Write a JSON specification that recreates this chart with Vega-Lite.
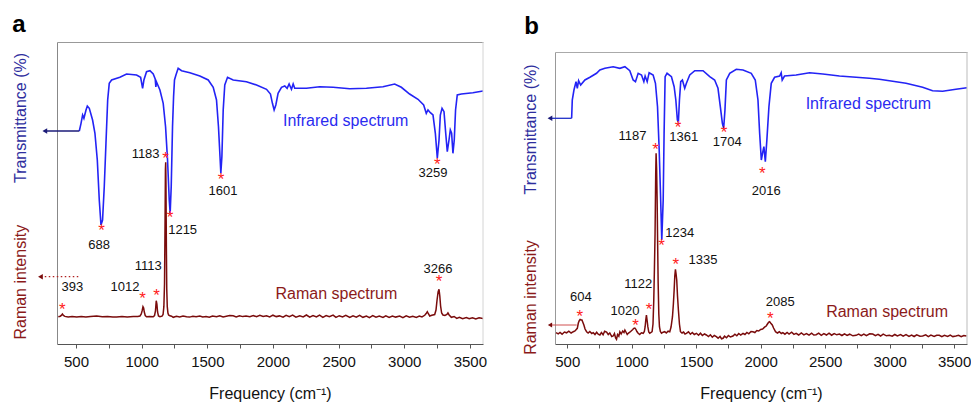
{
  "$schema": "https://vega.github.io/schema/vega-lite/v6.json",
  "width": 914,
  "height": 302,
  "autosize": {"type": "none"},
  "padding": {"left": 57, "top": 42, "right": 0, "bottom": 58},
  "background": "white",
  "config": {"font": "Liberation Sans", "view": {"stroke": null}},
  "datasets": {
    "one": [{"k": 1}],
    "irA": [
      {"f":525,"y":213},{"f":538,"y":220.7},{"f":550,"y":229},{"f":560,"y":225.7},{"f":576,"y":234},{"f":586,"y":238},{"f":601,"y":235.7},{"f":626,"y":224},{"f":644,"y":210.7},{"f":662,"y":184},{"f":677,"y":144},{"f":690,"y":119},{"f":702,"y":124},{"f":715,"y":157.3},{"f":728,"y":200.7},{"f":741,"y":244},{"f":753,"y":260.7},{"f":771,"y":264},{"f":834,"y":266.7},{"f":885,"y":270},{"f":961,"y":269},{"f":992,"y":266.7},{"f":1007,"y":255.7},{"f":1017,"y":264},{"f":1037,"y":272.3},{"f":1063,"y":273.3},{"f":1088,"y":270},{"f":1103,"y":265},{"f":1108,"y":257},{"f":1113,"y":262},{"f":1139,"y":254},{"f":1164,"y":240.7},{"f":1182,"y":217.3},{"f":1197,"y":184},{"f":1210,"y":144},{"f":1217,"y":130.7},{"f":1225,"y":157.3},{"f":1235,"y":217.3},{"f":1243,"y":247.3},{"f":1250,"y":264},{"f":1261,"y":269},{"f":1278,"y":275.7},{"f":1304,"y":273.3},{"f":1367,"y":271.3},{"f":1443,"y":268},{"f":1507,"y":264},{"f":1545,"y":256.7},{"f":1570,"y":244},{"f":1585,"y":217.3},{"f":1598,"y":184},{"f":1603,"y":170.7},{"f":1611,"y":187.3},{"f":1621,"y":234},{"f":1633,"y":259},{"f":1654,"y":266.7},{"f":1697,"y":264},{"f":1798,"y":262.3},{"f":1875,"y":259},{"f":1951,"y":254.7},{"f":1981,"y":250},{"f":1996,"y":240.7},{"f":2009,"y":234},{"f":2022,"y":239},{"f":2039,"y":250.7},{"f":2065,"y":256.7},{"f":2090,"y":258},{"f":2108,"y":255.7},{"f":2123,"y":260},{"f":2141,"y":254.7},{"f":2154,"y":260},{"f":2166,"y":255.7},{"f":2255,"y":255.7},{"f":2356,"y":257.3},{"f":2458,"y":256.7},{"f":2585,"y":255.3},{"f":2712,"y":255.7},{"f":2838,"y":257.3},{"f":2927,"y":260},{"f":2978,"y":256.7},{"f":3041,"y":250},{"f":3105,"y":244.7},{"f":3148,"y":239},{"f":3168,"y":230.7},{"f":3181,"y":234},{"f":3199,"y":231.3},{"f":3219,"y":229},{"f":3237,"y":210.7},{"f":3252,"y":185.7},{"f":3265,"y":204},{"f":3275,"y":229},{"f":3288,"y":235.7},{"f":3303,"y":232.3},{"f":3316,"y":210.7},{"f":3328,"y":192.3},{"f":3341,"y":204},{"f":3351,"y":214},{"f":3361,"y":210.7},{"f":3371,"y":190.7},{"f":3381,"y":204},{"f":3391,"y":234},{"f":3404,"y":249},{"f":3435,"y":250},{"f":3523,"y":251.3},{"f":3600,"y":253}
    ],
    "ramanA": [
      {"f":365,"y":27.3},{"f":380,"y":27.8},{"f":388,"y":28.6},{"f":396,"y":30},{"f":404,"y":28.5},{"f":415,"y":27.6},{"f":440,"y":27.1},{"f":470,"y":27.6},{"f":505,"y":26.9},{"f":540,"y":27.4},{"f":575,"y":27},{"f":610,"y":27.6},{"f":657,"y":28},{"f":700,"y":27.2},{"f":740,"y":27.5},{"f":780,"y":26.9},{"f":809,"y":27.1},{"f":850,"y":27.6},{"f":890,"y":27},{"f":936,"y":27.4},{"f":970,"y":27.6},{"f":987,"y":28},{"f":997,"y":30},{"f":1004,"y":33.5},{"f":1010,"y":37.3},{"f":1015,"y":36},{"f":1020,"y":32},{"f":1027,"y":28.5},{"f":1037,"y":27.3},{"f":1060,"y":27.6},{"f":1088,"y":27.3},{"f":1098,"y":28.5},{"f":1105,"y":33},{"f":1111,"y":43.3},{"f":1116,"y":40},{"f":1121,"y":32},{"f":1128,"y":28},{"f":1139,"y":27.3},{"f":1155,"y":27.8},{"f":1163,"y":29.5},{"f":1169,"y":37.3},{"f":1174,"y":60},{"f":1178,"y":120},{"f":1181,"y":175},{"f":1183,"y":181.7},{"f":1185,"y":160},{"f":1188,"y":100},{"f":1191,"y":55},{"f":1195,"y":37.3},{"f":1200,"y":31},{"f":1205,"y":29},{"f":1215,"y":28.2},{"f":1228,"y":27.8},{"f":1240,"y":26.7},{"f":1265,"y":27.8},{"f":1290,"y":27},{"f":1315,"y":27.9},{"f":1342,"y":27.3},{"f":1365,"y":26.9},{"f":1390,"y":27.8},{"f":1415,"y":27.2},{"f":1443,"y":28},{"f":1465,"y":27.1},{"f":1490,"y":27.6},{"f":1515,"y":26.8},{"f":1540,"y":27.9},{"f":1570,"y":27.3},{"f":1595,"y":28.2},{"f":1620,"y":27},{"f":1645,"y":27.7},{"f":1670,"y":28.4},{"f":1697,"y":28.2},{"f":1720,"y":27.1},{"f":1745,"y":28.3},{"f":1770,"y":27.4},{"f":1795,"y":28},{"f":1824,"y":27.3},{"f":1850,"y":28.5},{"f":1875,"y":27.2},{"f":1900,"y":28.6},{"f":1925,"y":27.5},{"f":1951,"y":28.3},{"f":1975,"y":27},{"f":2000,"y":28.8},{"f":2025,"y":27.4},{"f":2050,"y":28.1},{"f":2077,"y":26.9},{"f":2100,"y":28.7},{"f":2125,"y":27.3},{"f":2150,"y":28.9},{"f":2175,"y":26.8},{"f":2204,"y":28.2},{"f":2230,"y":27.1},{"f":2255,"y":29},{"f":2280,"y":26.9},{"f":2305,"y":28.4},{"f":2331,"y":27},{"f":2355,"y":28.8},{"f":2380,"y":26.7},{"f":2405,"y":28.5},{"f":2430,"y":27.2},{"f":2458,"y":28.9},{"f":2480,"y":26.6},{"f":2505,"y":28.3},{"f":2530,"y":27},{"f":2555,"y":28.7},{"f":2585,"y":26.5},{"f":2610,"y":28.1},{"f":2635,"y":26.9},{"f":2660,"y":28.6},{"f":2685,"y":26.7},{"f":2712,"y":28},{"f":2735,"y":26.4},{"f":2760,"y":28.4},{"f":2785,"y":26.8},{"f":2810,"y":27.9},{"f":2838,"y":26.5},{"f":2860,"y":28.2},{"f":2885,"y":26.6},{"f":2910,"y":28},{"f":2935,"y":26.9},{"f":2965,"y":27.9},{"f":2990,"y":26.3},{"f":3015,"y":28.1},{"f":3040,"y":26.7},{"f":3065,"y":27.8},{"f":3092,"y":26.6},{"f":3115,"y":27.9},{"f":3135,"y":27},{"f":3156,"y":28.7},{"f":3170,"y":31},{"f":3176,"y":32.3},{"f":3185,"y":30},{"f":3194,"y":28},{"f":3210,"y":28.8},{"f":3232,"y":29.5},{"f":3242,"y":34},{"f":3250,"y":44},{"f":3258,"y":52},{"f":3265,"y":54.7},{"f":3271,"y":48},{"f":3277,"y":38},{"f":3285,"y":31},{"f":3295,"y":29},{"f":3310,"y":28.5},{"f":3325,"y":29.5},{"f":3333,"y":31},{"f":3342,"y":29},{"f":3359,"y":26.7},{"f":3380,"y":27.5},{"f":3400,"y":25.6},{"f":3420,"y":26.8},{"f":3445,"y":25.3},{"f":3473,"y":26.5},{"f":3495,"y":25.2},{"f":3520,"y":26.3},{"f":3545,"y":25},{"f":3570,"y":26.2},{"f":3600,"y":25.5}
    ],
    "irB": [
      {"f":534,"y":225.7},{"f":539,"y":244},{"f":552,"y":254},{"f":568,"y":262.3},{"f":578,"y":255.7},{"f":588,"y":263.3},{"f":604,"y":259},{"f":637,"y":264},{"f":676,"y":266.7},{"f":727,"y":270.7},{"f":753,"y":274},{"f":792,"y":275.7},{"f":856,"y":277.3},{"f":908,"y":275.7},{"f":947,"y":277.3},{"f":985,"y":273.3},{"f":1011,"y":264},{"f":1029,"y":262.3},{"f":1050,"y":270.7},{"f":1076,"y":269},{"f":1094,"y":262.3},{"f":1104,"y":268},{"f":1120,"y":262.3},{"f":1135,"y":271.3},{"f":1166,"y":269},{"f":1184,"y":260.7},{"f":1200,"y":237.3},{"f":1213,"y":194},{"f":1223,"y":150.7},{"f":1233,"y":104},{"f":1244,"y":144},{"f":1251,"y":210.7},{"f":1259,"y":267.3},{"f":1274,"y":270.7},{"f":1308,"y":267.3},{"f":1329,"y":257.3},{"f":1342,"y":244},{"f":1354,"y":224},{"f":1362,"y":222.3},{"f":1370,"y":244},{"f":1380,"y":262.3},{"f":1393,"y":264},{"f":1411,"y":255.7},{"f":1424,"y":260.7},{"f":1450,"y":269},{"f":1489,"y":273.3},{"f":1553,"y":273.3},{"f":1605,"y":267.3},{"f":1643,"y":264},{"f":1669,"y":255.7},{"f":1687,"y":237.3},{"f":1703,"y":220.7},{"f":1713,"y":215.7},{"f":1723,"y":234},{"f":1734,"y":264},{"f":1760,"y":270.7},{"f":1811,"y":274.7},{"f":1863,"y":274},{"f":1927,"y":270.7},{"f":1958,"y":264},{"f":1979,"y":244},{"f":1992,"y":210.7},{"f":2005,"y":184},{"f":2017,"y":192.3},{"f":2025,"y":197.3},{"f":2036,"y":182.3},{"f":2048,"y":204},{"f":2064,"y":237.3},{"f":2082,"y":260.7},{"f":2108,"y":266.7},{"f":2147,"y":268},{"f":2159,"y":271.3},{"f":2167,"y":264},{"f":2185,"y":268},{"f":2275,"y":269},{"f":2379,"y":271.3},{"f":2482,"y":270},{"f":2611,"y":268},{"f":2740,"y":266.7},{"f":2843,"y":265.7},{"f":2920,"y":264.7},{"f":2998,"y":263.3},{"f":3127,"y":260.7},{"f":3256,"y":256.7},{"f":3333,"y":253.3},{"f":3411,"y":252.7},{"f":3514,"y":254.7},{"f":3599,"y":256.3}
    ],
    "ramanB": [
      {"f":413,"y":11.3},{"f":430,"y":10.2},{"f":444,"y":11.5},{"f":460,"y":9.8},{"f":478,"y":12},{"f":495,"y":11.2},{"f":512,"y":12.8},{"f":530,"y":11},{"f":547,"y":12.3},{"f":560,"y":13},{"f":570,"y":14.5},{"f":578,"y":15.7},{"f":586,"y":21},{"f":593,"y":23.3},{"f":600,"y":24.5},{"f":608,"y":24},{"f":614,"y":24},{"f":620,"y":22},{"f":629,"y":19},{"f":638,"y":15},{"f":650,"y":12.3},{"f":662,"y":11},{"f":675,"y":12.5},{"f":690,"y":10.5},{"f":702,"y":11.3},{"f":715,"y":9.5},{"f":728,"y":11.8},{"f":740,"y":9.8},{"f":753,"y":9},{"f":765,"y":11.5},{"f":778,"y":9.2},{"f":790,"y":12.8},{"f":805,"y":12},{"f":818,"y":9.5},{"f":830,"y":11},{"f":845,"y":7.5},{"f":856,"y":8},{"f":866,"y":10.5},{"f":875,"y":6},{"f":882,"y":4.7},{"f":890,"y":9.5},{"f":900,"y":7.8},{"f":908,"y":12.3},{"f":918,"y":10},{"f":930,"y":13},{"f":940,"y":11.5},{"f":947,"y":14},{"f":955,"y":12},{"f":965,"y":9.5},{"f":973,"y":10.7},{"f":985,"y":11.8},{"f":998,"y":13.3},{"f":1008,"y":14.5},{"f":1016,"y":15.7},{"f":1024,"y":16},{"f":1032,"y":14.7},{"f":1040,"y":12.5},{"f":1050,"y":10.7},{"f":1062,"y":9.5},{"f":1075,"y":11.2},{"f":1089,"y":10.7},{"f":1098,"y":12.5},{"f":1104,"y":17.3},{"f":1109,"y":24},{"f":1114,"y":29},{"f":1119,"y":24},{"f":1125,"y":17.3},{"f":1132,"y":12},{"f":1140,"y":10.7},{"f":1150,"y":11.5},{"f":1158,"y":12.3},{"f":1165,"y":20},{"f":1171,"y":44},{"f":1176,"y":75},{"f":1181,"y":110.7},{"f":1186,"y":170},{"f":1189,"y":190.7},{"f":1193,"y":175},{"f":1197,"y":144},{"f":1201,"y":100},{"f":1205,"y":60.7},{"f":1210,"y":30},{"f":1215,"y":17.3},{"f":1222,"y":12.5},{"f":1231,"y":10.7},{"f":1243,"y":11.8},{"f":1256,"y":12.3},{"f":1268,"y":11},{"f":1282,"y":12.8},{"f":1295,"y":12.3},{"f":1305,"y":17},{"f":1316,"y":27.3},{"f":1323,"y":40},{"f":1329,"y":54},{"f":1334,"y":68},{"f":1339,"y":74.7},{"f":1344,"y":70},{"f":1349,"y":64},{"f":1355,"y":48},{"f":1362,"y":34},{"f":1370,"y":20},{"f":1378,"y":12.3},{"f":1390,"y":11},{"f":1402,"y":12},{"f":1413,"y":10},{"f":1424,"y":10.7},{"f":1440,"y":12.2},{"f":1455,"y":9.8},{"f":1470,"y":11.5},{"f":1485,"y":9.5},{"f":1502,"y":10.7},{"f":1518,"y":8.8},{"f":1533,"y":10.8},{"f":1548,"y":8.5},{"f":1564,"y":10},{"f":1579,"y":9},{"f":1595,"y":7.5},{"f":1610,"y":9.2},{"f":1625,"y":6.8},{"f":1640,"y":8.5},{"f":1656,"y":7.3},{"f":1670,"y":5.8},{"f":1685,"y":7.5},{"f":1697,"y":5.2},{"f":1708,"y":5.7},{"f":1720,"y":7.8},{"f":1735,"y":6.2},{"f":1750,"y":8.5},{"f":1765,"y":7},{"f":1785,"y":8},{"f":1800,"y":9.8},{"f":1815,"y":8.2},{"f":1830,"y":10.5},{"f":1845,"y":9},{"f":1863,"y":10.7},{"f":1878,"y":9.5},{"f":1893,"y":11.5},{"f":1908,"y":10.2},{"f":1925,"y":12.5},{"f":1940,"y":12.3},{"f":1955,"y":11.5},{"f":1970,"y":13.5},{"f":1985,"y":13},{"f":2000,"y":14.5},{"f":2015,"y":15},{"f":2030,"y":16.8},{"f":2043,"y":18},{"f":2055,"y":20.5},{"f":2063,"y":22},{"f":2069,"y":22.3},{"f":2077,"y":21},{"f":2090,"y":19},{"f":2100,"y":16},{"f":2115,"y":12.3},{"f":2130,"y":11},{"f":2145,"y":12.2},{"f":2160,"y":10.5},{"f":2172,"y":11.3},{"f":2188,"y":9.8},{"f":2205,"y":11.5},{"f":2220,"y":10},{"f":2240,"y":11.8},{"f":2258,"y":9.6},{"f":2275,"y":10.7},{"f":2295,"y":9},{"f":2315,"y":11},{"f":2335,"y":9.2},{"f":2355,"y":10.5},{"f":2375,"y":8.8},{"f":2395,"y":10.8},{"f":2412,"y":9},{"f":2430,"y":9.3},{"f":2450,"y":10.8},{"f":2470,"y":8.7},{"f":2490,"y":10.4},{"f":2510,"y":9},{"f":2530,"y":10.9},{"f":2550,"y":8.8},{"f":2570,"y":10.5},{"f":2590,"y":9.2},{"f":2611,"y":10},{"f":2630,"y":8.5},{"f":2650,"y":10.2},{"f":2670,"y":8.6},{"f":2690,"y":9.8},{"f":2715,"y":8.2},{"f":2740,"y":8.7},{"f":2760,"y":10},{"f":2780,"y":8.4},{"f":2800,"y":9.9},{"f":2820,"y":8.3},{"f":2845,"y":10.2},{"f":2869,"y":10},{"f":2890,"y":8.4},{"f":2910,"y":9.6},{"f":2930,"y":8},{"f":2950,"y":9.8},{"f":2975,"y":8.2},{"f":2998,"y":8.7},{"f":3020,"y":7.8},{"f":3040,"y":9.5},{"f":3060,"y":8},{"f":3085,"y":9.4},{"f":3105,"y":7.9},{"f":3127,"y":9.3},{"f":3150,"y":7.6},{"f":3170,"y":9},{"f":3190,"y":7.5},{"f":3210,"y":9.2},{"f":3235,"y":7.7},{"f":3256,"y":8},{"f":3280,"y":9.1},{"f":3300,"y":7.4},{"f":3320,"y":8.9},{"f":3345,"y":7.6},{"f":3365,"y":8.8},{"f":3385,"y":8.7},{"f":3405,"y":7.3},{"f":3425,"y":8.6},{"f":3450,"y":7.5},{"f":3470,"y":8.8},{"f":3490,"y":7.4},{"f":3514,"y":8},{"f":3535,"y":8.7},{"f":3555,"y":7.3},{"f":3575,"y":8.5},{"f":3596,"y":8}
    ],
    "annA": [
      {"lab":"688","sf":695,"sy":118,"lf":675,"ly":99},
      {"lab":"1215","sf":1217,"sy":130.7,"lf":1312,"ly":114},
      {"lab":"1183","sf":1182,"sy":190,"lf":1030,"ly":190},
      {"lab":"1601","sf":1605,"sy":168.3,"lf":1620,"ly":153.3},
      {"lab":"3259","sf":3252,"sy":184,"lf":3219,"ly":171.3},
      {"lab":"393","sf":396,"sy":38.3,"lf":472,"ly":56.7},
      {"lab":"1012","sf":1007,"sy":49.3,"lf":873,"ly":57.3},
      {"lab":"1113","sf":1113,"sy":53,"lf":1050,"ly":78.3},
      {"lab":"3266","sf":3265,"sy":66.3,"lf":3257,"ly":75.3}
    ],
    "annB": [
      {"lab":"1187","sf":1184,"sy":199,"lf":1006,"ly":208.3},
      {"lab":"1234","sf":1231,"sy":102.3,"lf":1372,"ly":110.7},
      {"lab":"1361","sf":1360,"sy":220.7,"lf":1403,"ly":207.3},
      {"lab":"1704","sf":1716,"sy":215.7,"lf":1741,"ly":202.3},
      {"lab":"2016","sf":2012,"sy":174.7,"lf":2043,"ly":153.3},
      {"lab":"1335","sf":1342,"sy":84,"lf":1553,"ly":84},
      {"lab":"1122","sf":1135,"sy":39,"lf":1050,"ly":59.7},
      {"lab":"1020","sf":1029,"sy":22.3,"lf":947,"ly":33.3},
      {"lab":"604","sf":598,"sy":31.7,"lf":606,"ly":46.7},
      {"lab":"2085","sf":2074,"sy":30,"lf":2152,"ly":42.3}
    ],
    "namesA": [
      {"name":"Infrared spectrum","kind":"ir","f":2554,"y":223.3},
      {"name":"Raman spectrum","kind":"raman","f":2483,"y":50}
    ],
    "namesB": [
      {"name":"Infrared spectrum","kind":"ir","f":2835,"y":240},
      {"name":"Raman spectrum","kind":"raman","f":2980,"y":32.3}
    ]
  },
  "resolve": {"scale": {"x": "independent", "y": "independent"}, "axis": {"x": "independent", "y": "independent"}},
  "layer": [
    {
      "data": {"name": "irA"},
      "mark": {"type": "line", "color": "#2323f5", "strokeWidth": 1.6},
      "encoding": {
        "x": {"field": "f", "type": "quantitative", "scale": {"domain": [355, 3600], "range": [0, 426], "nice": false, "zero": false},
          "axis": {"orient": "bottom", "values": [500,750,1000,1250,1500,1750,2000,2250,2500,2750,3000,3250,3500], "format": "d", "labelExpr": "datum.value % 500 === 0 ? datum.label : ''", "grid": false, "domainColor": "#555", "tickColor": "#555", "tickSize": 4, "labelFontSize": 15, "labelColor": "#111", "labelPadding": 6, "labelFlush": false, "labelOverlap": false, "title": "Frequency (cm⁻¹)", "titleFontSize": 16, "titleFontWeight": "normal", "titleColor": "#111", "titleY": 49, "titleBaseline": "middle"}},
        "y": {"field": "y", "type": "quantitative", "scale": {"domain": [0, 302], "nice": false, "zero": false},
          "axis": {"orient": "left", "domain": true, "domainColor": "#888", "ticks": false, "labels": false, "grid": false, "title": "Transmittance (%)", "titleColor": "#2e2e9e", "titleFontSize": 16, "titleFontWeight": "normal", "titleX": -37, "titleY": 75.5, "titleAngle": -90, "titleAlign": "center", "titleBaseline": "middle"}}
      }
    },
    {
      "data": {"name": "ramanA"},
      "mark": {"type": "line", "color": "#7a0c0c", "strokeWidth": 1.5},
      "encoding": {
        "x": {"field": "f", "type": "quantitative", "scale": {"domain": [355, 3600], "range": [0, 426], "nice": false, "zero": false},
          "axis": {"orient": "top", "domain": true, "domainColor": "#999", "ticks": false, "labels": false, "grid": false, "title": "a", "titleFontSize": 24, "titleFontWeight": "bold", "titleColor": "#000", "titleX": -38.5, "titleY": -17.5, "titleAlign": "center", "titleBaseline": "middle", "titleAngle": 0}},
        "y": {"field": "y", "type": "quantitative", "scale": {"domain": [0, 302], "nice": false, "zero": false},
          "axis": {"orient": "left", "domain": false, "ticks": false, "labels": false, "grid": false, "title": "Raman intensity", "titleColor": "#8b1a1a", "titleFontSize": 16, "titleFontWeight": "normal", "titleX": -37, "titleY": 239.7, "titleAngle": -90, "titleAlign": "center", "titleBaseline": "middle"}}
      }
    },
    {
      "data": {"name": "one"},
      "mark": {"type": "rule", "color": "#d4d4d4", "strokeWidth": 1},
      "encoding": {
        "x": {"datum": 3600, "scale": {"domain": [355, 3600], "range": [0, 426], "nice": false, "zero": false}, "axis": null},
        "y": {"datum": 0, "scale": {"domain": [0, 302], "nice": false, "zero": false}, "axis": null},
        "y2": {"datum": 302}
      }
    },
    {
      "data": {"name": "one"},
      "mark": {"type": "rule", "color": "#1b1b78", "strokeWidth": 1.3},
      "encoding": {
        "x": {"datum": 525, "scale": {"domain": [355, 3600], "range": [0, 426], "nice": false, "zero": false}, "axis": null},
        "x2": {"datum": 262},
        "y": {"datum": 213, "scale": {"domain": [0, 302], "nice": false, "zero": false}, "axis": null}
      }
    },
    {
      "data": {"name": "one"},
      "mark": {"type": "point", "shape": "triangle-left", "filled": true, "color": "#1b1b78", "size": 30, "opacity": 1},
      "encoding": {
        "x": {"datum": 262, "scale": {"domain": [355, 3600], "range": [0, 426], "nice": false, "zero": false}, "axis": null},
        "y": {"datum": 213, "scale": {"domain": [0, 302], "nice": false, "zero": false}, "axis": null}
      }
    },
    {
      "data": {"name": "one"},
      "mark": {"type": "rule", "color": "#b02020", "strokeWidth": 1.2, "strokeDash": [1.5, 2.5]},
      "encoding": {
        "x": {"datum": 517, "scale": {"domain": [355, 3600], "range": [0, 426], "nice": false, "zero": false}, "axis": null},
        "x2": {"datum": 232},
        "y": {"datum": 67.3, "scale": {"domain": [0, 302], "nice": false, "zero": false}, "axis": null}
      }
    },
    {
      "data": {"name": "one"},
      "mark": {"type": "point", "shape": "triangle-left", "filled": true, "color": "#7a0c0c", "size": 30, "opacity": 1},
      "encoding": {
        "x": {"datum": 229, "scale": {"domain": [355, 3600], "range": [0, 426], "nice": false, "zero": false}, "axis": null},
        "y": {"datum": 67.3, "scale": {"domain": [0, 302], "nice": false, "zero": false}, "axis": null}
      }
    },
    {
      "data": {"name": "annA"},
      "mark": {"type": "text", "text": "*", "color": "#ff2020", "fontSize": 17, "baseline": "alphabetic", "align": "center", "dy": 9.5},
      "encoding": {
        "x": {"field": "sf", "type": "quantitative", "scale": {"domain": [355, 3600], "range": [0, 426], "nice": false, "zero": false}, "axis": null},
        "y": {"field": "sy", "type": "quantitative", "scale": {"domain": [0, 302], "nice": false, "zero": false}, "axis": null}
      }
    },
    {
      "data": {"name": "annA"},
      "mark": {"type": "text", "color": "#111", "fontSize": 13, "baseline": "middle", "align": "center"},
      "encoding": {
        "x": {"field": "lf", "type": "quantitative", "scale": {"domain": [355, 3600], "range": [0, 426], "nice": false, "zero": false}, "axis": null},
        "y": {"field": "ly", "type": "quantitative", "scale": {"domain": [0, 302], "nice": false, "zero": false}, "axis": null},
        "text": {"field": "lab"}
      }
    },
    {
      "data": {"name": "namesA"},
      "mark": {"type": "text", "fontSize": 16, "baseline": "middle", "align": "center"},
      "encoding": {
        "x": {"field": "f", "type": "quantitative", "scale": {"domain": [355, 3600], "range": [0, 426], "nice": false, "zero": false}, "axis": null},
        "y": {"field": "y", "type": "quantitative", "scale": {"domain": [0, 302], "nice": false, "zero": false}, "axis": null},
        "text": {"field": "name"},
        "color": {"field": "kind", "type": "nominal", "scale": {"domain": ["ir", "raman"], "range": ["#2b2bf0", "#8b1a1a"]}, "legend": null}
      }
    },
    {
      "data": {"name": "irB"},
      "mark": {"type": "line", "color": "#2323f5", "strokeWidth": 1.6},
      "encoding": {
        "x": {"field": "f", "type": "quantitative", "scale": {"domain": [405, 3600], "range": [498, 910], "nice": false, "zero": false},
          "axis": {"orient": "bottom", "values": [500,750,1000,1250,1500,1750,2000,2250,2500,2750,3000,3250,3500], "format": "d", "labelExpr": "datum.value % 500 === 0 ? datum.label : ''", "grid": false, "domainColor": "#555", "tickColor": "#555", "tickSize": 4, "labelFontSize": 15, "labelColor": "#111", "labelPadding": 6, "labelFlush": false, "labelOverlap": false, "title": "Frequency (cm⁻¹)", "titleFontSize": 16, "titleFontWeight": "normal", "titleColor": "#111", "titleY": 49, "titleBaseline": "middle"}},
        "y": {"field": "y", "type": "quantitative", "scale": {"domain": [0, 292], "range": [302, 10], "nice": false, "zero": false},
          "axis": {"orient": "left", "offset": -498, "domain": true, "domainColor": "#999", "ticks": false, "labels": false, "grid": false, "title": "Transmittance (%)", "titleColor": "#2e2e9e", "titleFontSize": 16, "titleFontWeight": "normal", "titleX": -24.5, "titleY": 87, "titleAngle": -90, "titleAlign": "center", "titleBaseline": "middle"}}
      }
    },
    {
      "data": {"name": "ramanB"},
      "mark": {"type": "line", "color": "#7a0c0c", "strokeWidth": 1.5},
      "encoding": {
        "x": {"field": "f", "type": "quantitative", "scale": {"domain": [405, 3600], "range": [498, 910], "nice": false, "zero": false},
          "axis": {"orient": "top", "offset": -10, "domain": true, "domainColor": "#aaa", "ticks": false, "labels": false, "grid": false, "title": "b", "titleFontSize": 24, "titleFontWeight": "bold", "titleColor": "#000", "titleX": 474, "titleY": -25.5, "titleAlign": "center", "titleBaseline": "middle", "titleAngle": 0}},
        "y": {"field": "y", "type": "quantitative", "scale": {"domain": [0, 292], "range": [302, 10], "nice": false, "zero": false},
          "axis": {"orient": "left", "offset": -498, "domain": false, "ticks": false, "labels": false, "grid": false, "title": "Raman intensity", "titleColor": "#8b1a1a", "titleFontSize": 16, "titleFontWeight": "normal", "titleX": -24.5, "titleY": 255, "titleAngle": -90, "titleAlign": "center", "titleBaseline": "middle"}}
      }
    },
    {
      "data": {"name": "one"},
      "mark": {"type": "rule", "color": "#bbbbbb", "strokeWidth": 1},
      "encoding": {
        "x": {"datum": 3600, "scale": {"domain": [405, 3600], "range": [498, 910], "nice": false, "zero": false}, "axis": null},
        "y": {"datum": 0, "scale": {"domain": [0, 292], "range": [302, 10], "nice": false, "zero": false}, "axis": null},
        "y2": {"datum": 292}
      }
    },
    {
      "data": {"name": "one"},
      "mark": {"type": "rule", "color": "#2030c8", "strokeWidth": 1.3},
      "encoding": {
        "x": {"datum": 534, "scale": {"domain": [405, 3600], "range": [498, 910], "nice": false, "zero": false}, "axis": null},
        "x2": {"datum": 366},
        "y": {"datum": 225.7, "scale": {"domain": [0, 292], "range": [302, 10], "nice": false, "zero": false}, "axis": null}
      }
    },
    {
      "data": {"name": "one"},
      "mark": {"type": "point", "shape": "triangle-left", "filled": true, "color": "#1b1b78", "size": 30, "opacity": 1},
      "encoding": {
        "x": {"datum": 366, "scale": {"domain": [405, 3600], "range": [498, 910], "nice": false, "zero": false}, "axis": null},
        "y": {"datum": 225.7, "scale": {"domain": [0, 292], "range": [302, 10], "nice": false, "zero": false}, "axis": null}
      }
    },
    {
      "data": {"name": "one"},
      "mark": {"type": "rule", "color": "#d05050", "strokeWidth": 1},
      "encoding": {
        "x": {"datum": 573, "scale": {"domain": [405, 3600], "range": [498, 910], "nice": false, "zero": false}, "axis": null},
        "x2": {"datum": 366},
        "y": {"datum": 19, "scale": {"domain": [0, 292], "range": [302, 10], "nice": false, "zero": false}, "axis": null}
      }
    },
    {
      "data": {"name": "one"},
      "mark": {"type": "point", "shape": "triangle-left", "filled": true, "color": "#7a0c0c", "size": 25, "opacity": 1},
      "encoding": {
        "x": {"datum": 366, "scale": {"domain": [405, 3600], "range": [498, 910], "nice": false, "zero": false}, "axis": null},
        "y": {"datum": 19, "scale": {"domain": [0, 292], "range": [302, 10], "nice": false, "zero": false}, "axis": null}
      }
    },
    {
      "data": {"name": "annB"},
      "mark": {"type": "text", "text": "*", "color": "#ff2020", "fontSize": 17, "baseline": "alphabetic", "align": "center", "dy": 9.5},
      "encoding": {
        "x": {"field": "sf", "type": "quantitative", "scale": {"domain": [405, 3600], "range": [498, 910], "nice": false, "zero": false}, "axis": null},
        "y": {"field": "sy", "type": "quantitative", "scale": {"domain": [0, 292], "range": [302, 10], "nice": false, "zero": false}, "axis": null}
      }
    },
    {
      "data": {"name": "annB"},
      "mark": {"type": "text", "color": "#111", "fontSize": 13, "baseline": "middle", "align": "center"},
      "encoding": {
        "x": {"field": "lf", "type": "quantitative", "scale": {"domain": [405, 3600], "range": [498, 910], "nice": false, "zero": false}, "axis": null},
        "y": {"field": "ly", "type": "quantitative", "scale": {"domain": [0, 292], "range": [302, 10], "nice": false, "zero": false}, "axis": null},
        "text": {"field": "lab"}
      }
    },
    {
      "data": {"name": "namesB"},
      "mark": {"type": "text", "fontSize": 16, "baseline": "middle", "align": "center"},
      "encoding": {
        "x": {"field": "f", "type": "quantitative", "scale": {"domain": [405, 3600], "range": [498, 910], "nice": false, "zero": false}, "axis": null},
        "y": {"field": "y", "type": "quantitative", "scale": {"domain": [0, 292], "range": [302, 10], "nice": false, "zero": false}, "axis": null},
        "text": {"field": "name"},
        "color": {"field": "kind", "type": "nominal", "scale": {"domain": ["ir", "raman"], "range": ["#2b2bf0", "#8b1a1a"]}, "legend": null}
      }
    }
  ]
}
